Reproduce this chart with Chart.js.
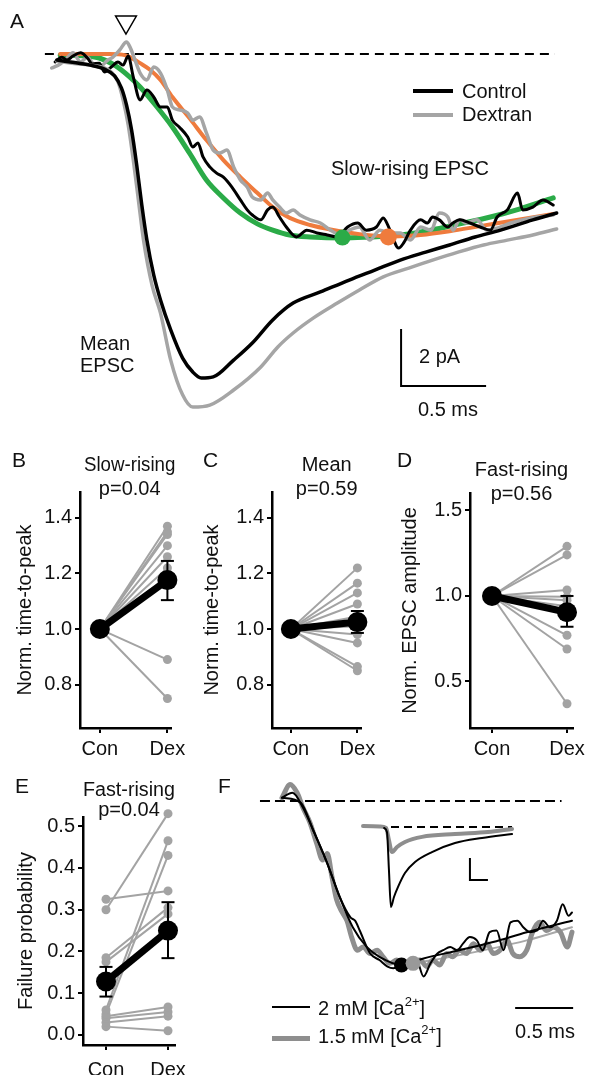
<!DOCTYPE html>
<html>
<head>
<meta charset="utf-8">
<script src="https://cdn.jsdelivr.net/npm/chart.js@4.4.1/dist/chart.umd.min.js"></script>
<style>
body{margin:0;width:591px;height:1075px;overflow:hidden;background:#fff;position:relative;font-family:'Liberation Sans',Arial,sans-serif;font-size:20px;color:#111}
canvas{position:absolute}
.t{position:absolute;line-height:20px;white-space:nowrap}
.lt{position:absolute;font-size:21px;line-height:20px}
.sw{position:absolute;height:0}
sup{font-size:13px;line-height:0;vertical-align:9px}
</style>
</head>
<body>
<canvas id="cA" width="591" height="430" style="left:0;top:0"></canvas>
<canvas id="cB" width="190" height="328" style="left:0;top:440px"></canvas>
<canvas id="cC" width="190" height="328" style="left:190px;top:440px"></canvas>
<canvas id="cD" width="206" height="328" style="left:385px;top:440px"></canvas>
<canvas id="cE" width="200" height="325" style="left:0;top:760px"></canvas>
<canvas id="cF" width="341" height="315" style="left:250px;top:760px"></canvas>

<div class="lt" style="left:10px;top:11px">A</div>
<div class="lt" style="left:12px;top:450px">B</div>
<div class="lt" style="left:203px;top:450px">C</div>
<div class="lt" style="left:397px;top:450px">D</div>
<div class="lt" style="left:15px;top:776px">E</div>
<div class="lt" style="left:218px;top:776px">F</div>

<!-- legende A -->
<div class="sw" style="left:413px;top:89px;width:40px;border-top:4px solid #000"></div>
<div class="sw" style="left:413px;top:113px;width:40px;border-top:4px solid #a5a5a5"></div>
<div class="t" style="left:462px;top:81px">Control</div>
<div class="t" style="left:462px;top:104px">Dextran</div>
<div class="t" style="left:331px;top:158px">Slow-rising EPSC</div>
<div class="t" style="left:80px;top:333px">Mean</div>
<div class="t" style="left:80px;top:355px">EPSC</div>
<div class="t" style="left:419px;top:346px">2 pA</div>
<div class="t" style="left:418px;top:399px">0.5 ms</div>

<!-- legende F -->
<div class="sw" style="left:272px;top:1006px;width:38px;border-top:2px solid #000"></div>
<div class="sw" style="left:272px;top:1036px;width:38px;border-top:5px solid #8e8e8e"></div>
<div class="t" style="left:318px;top:998px">2 mM [Ca<sup>2+</sup>]</div>
<div class="t" style="left:318px;top:1026px">1.5 mM [Ca<sup>2+</sup>]</div>
<div class="t" style="left:515px;top:1021px">0.5 ms</div>

<script>
// donnees du panneau A (temps en ms, courant en pA)
var slowConTrace=[[0.03,-0.28],[0.07,-0.11],[0.10,-0.21],[0.135,-0.07],[0.18,0.04],[0.22,-0.14],[0.25,-0.35],[0.29,-0.32],[0.32,-0.63],[0.36,-0.46],[0.40,-0.28],[0.43,-0.39],[0.46,-0.07],[0.49,-0.81],[0.53,-1.61],[0.57,-1.26],[0.61,-1.51],[0.65,-1.86],[0.69,-1.86],[0.72,-2.32],[0.76,-2.56],[0.81,-2.91],[0.84,-3.26],[0.87,-3.12],[0.90,-3.61],[0.94,-3.96],[0.98,-4.18],[1.02,-4.32],[1.07,-4.67],[1.12,-5.12],[1.16,-5.47],[1.19,-5.65],[1.24,-5.82],[1.28,-5.47],[1.31,-5.37],[1.35,-5.72],[1.39,-6.07],[1.45,-6.42],[1.51,-6.18],[1.57,-6.28],[1.63,-6.35],[1.69,-6.42],[1.75,-6.07],[1.81,-5.93],[1.86,-6.18],[1.92,-6.07],[1.96,-5.75],[2.00,-6.18],[2.05,-6.81],[2.08,-6.63],[2.12,-6.18],[2.18,-5.82],[2.22,-5.93],[2.25,-5.72],[2.29,-5.82],[2.34,-6.07],[2.37,-5.93],[2.41,-5.82],[2.47,-5.93],[2.53,-6.07],[2.59,-6.18],[2.63,-5.72],[2.69,-5.47],[2.75,-4.88],[2.78,-5.47],[2.84,-5.37],[2.90,-5.12],[2.96,-5.30]]
var slowDexTrace=[[0.01,-0.49],[0.06,-0.35],[0.10,-0.14],[0.135,0.04],[0.18,-0.28],[0.22,-0.11],[0.25,-0.32],[0.29,-0.46],[0.34,-0.21],[0.37,-0.11],[0.41,0.14],[0.45,0.42],[0.47,0.25],[0.50,-0.21],[0.53,-0.67],[0.57,-0.91],[0.61,-0.46],[0.65,-0.67],[0.69,-1.26],[0.72,-1.86],[0.76,-1.96],[0.81,-2.07],[0.84,-2.32],[0.88,-2.21],[0.92,-2.77],[0.96,-3.37],[1.00,-3.47],[1.04,-3.37],[1.08,-3.96],[1.12,-4.42],[1.16,-4.67],[1.19,-5.02],[1.24,-5.12],[1.28,-4.88],[1.31,-5.12],[1.35,-5.37],[1.39,-5.58],[1.43,-5.47],[1.47,-5.65],[1.53,-5.82],[1.59,-5.93],[1.65,-6.18],[1.71,-6.35],[1.76,-6.18],[1.82,-6.07],[1.88,-6.53],[1.94,-6.18],[2.00,-6.28],[2.06,-6.28],[2.12,-6.53],[2.18,-6.07],[2.24,-6.18],[2.29,-5.58],[2.34,-5.72],[2.37,-6.18],[2.41,-5.82],[2.45,-5.93],[2.51,-5.82],[2.57,-6.18],[2.63,-6.11],[2.71,-5.93],[2.78,-5.82],[2.86,-5.72],[2.96,-5.65]]
var slowConFit=[[0.06,-0.04],[0.21,-0.07],[0.29,-0.14],[0.38,-0.39],[0.47,-0.81],[0.53,-1.16],[0.62,-1.79],[0.72,-2.56],[0.82,-3.47],[0.92,-4.42],[1.02,-5.05],[1.12,-5.58],[1.22,-5.96],[1.31,-6.18],[1.41,-6.35],[1.53,-6.42],[1.72,-6.46],[1.88,-6.42],[2.06,-6.35],[2.24,-6.18],[2.41,-5.96],[2.59,-5.72],[2.76,-5.44],[2.96,-5.05]]
var slowDexFit=[[0.06,0],[0.35,0],[0.44,-0.04],[0.47,-0.11],[0.53,-0.32],[0.59,-0.56],[0.65,-0.91],[0.72,-1.51],[0.82,-2.25],[0.92,-3.02],[1.02,-3.72],[1.12,-4.32],[1.22,-4.88],[1.31,-5.37],[1.41,-5.75],[1.53,-6.00],[1.65,-6.16],[1.82,-6.32],[2.02,-6.40],[2.18,-6.35],[2.35,-6.22],[2.53,-6.04],[2.71,-5.86],[2.96,-5.61]]
var meanConTrace=[[0.04,-0.21],[0.12,-0.28],[0.235,-0.39],[0.32,-0.53],[0.38,-0.77],[0.42,-1.19],[0.45,-1.79],[0.48,-2.67],[0.51,-3.89],[0.54,-5.30],[0.57,-6.53],[0.61,-7.75],[0.65,-8.63],[0.71,-9.68],[0.78,-10.67],[0.84,-11.16],[0.89,-11.37],[0.96,-11.33],[1.08,-10.74],[1.19,-10.14],[1.31,-9.33],[1.43,-8.74],[1.59,-8.35],[1.76,-7.93],[1.91,-7.58],[2.06,-7.23],[2.21,-6.95],[2.35,-6.70],[2.50,-6.42],[2.65,-6.18],[2.84,-5.82],[2.98,-5.58]]
var meanDexTrace=[[0.04,-0.25],[0.12,-0.32],[0.235,-0.39],[0.32,-0.49],[0.36,-0.63],[0.40,-0.98],[0.43,-1.61],[0.46,-2.49],[0.49,-3.72],[0.52,-5.12],[0.55,-6.53],[0.60,-8.11],[0.65,-9.09],[0.71,-10.74],[0.78,-11.96],[0.84,-12.39],[0.94,-12.32],[1.08,-11.79],[1.24,-10.98],[1.34,-10.28],[1.43,-9.79],[1.55,-9.26],[1.69,-8.74],[1.82,-8.28],[1.96,-7.82],[2.11,-7.51],[2.25,-7.23],[2.40,-6.95],[2.55,-6.70],[2.69,-6.53],[2.84,-6.35],[2.98,-6.14]]
var slowPeaks=[[1.72,-6.44],[1.99,-6.42]]   // vert = control, orange = dextran
var stimMark=[[0.447,1.12]]
var baselineA=[[-0.03,0],[2.97,0]]
var scaleBarA=[[2.065,-9.65],[2.065,-11.65],[2.565,-11.65]]   // 2 pA, 0.5 ms

// donnees des panneaux B-E
var groups=['Con','Dex']
var slowDex=[1.37,1.35,1.34,1.30,1.26,1.22,1.19,1.17,0.89,0.75]
var slowCon=[1,1,1,1,1,1,1,1,1,1]
var slowMean=[1.0,1.176]
var slowErr=[[1,1.104,1.245]]
var meanDex=[1.22,1.165,1.13,1.09,1.045,1.01,0.98,0.95,0.865,0.85]
var meanCon=[1,1,1,1,1,1,1,1,1,1]
var meanMean=[1.0,1.025]
var meanErr=[[1,0.986,1.065]]
var ampDex=[1.29,1.24,1.035,0.995,0.975,0.94,0.77,0.69,0.37]
var ampCon=[1,1,1,1,1,1,1,1,1]
var ampMean=[1.0,0.905]
var ampErr=[[1,0.82,1.0]]
var failCon=[0.30,0.325,0.185,0.175,0.06,0.05,0.045,0.04,0.03,0.02]
var failDex=[0.53,0.345,0.305,0.29,0.465,0.43,0.067,0.055,0.045,0.01]
var failMean=[0.128,0.25]
var failErr=[[0,0.092,0.163],[1,0.184,0.318]]
var ticksTime=[0.8,1.0,1.2,1.4]
var ticksAmp=[0.5,1.0,1.5]
var ticksFail=[0,0.1,0.2,0.3,0.4,0.5]

// donnees du panneau F (temps en ms, courant normalise)
var caConTrace=[[0,0.02],[0.09,0.05],[0.18,-0.04],[0.27,-0.18],[0.39,-0.38],[0.50,-0.59],[0.59,-0.71],[0.63,-0.73],[0.67,-0.79],[0.76,-0.93],[0.84,-0.97],[0.91,-1.01],[0.96,-1.02],[1.03,-1.00],[1.16,-0.97],[1.22,-1.07],[1.28,-0.99],[1.34,-0.93],[1.39,-0.91],[1.45,-0.89],[1.51,-0.91],[1.56,-0.87],[1.62,-0.83],[1.68,-0.85],[1.73,-0.91],[1.79,-0.80],[1.85,-0.79],[1.91,-0.91],[1.97,-0.74],[2.03,-0.73],[2.08,-0.77],[2.14,-0.80],[2.20,-0.79],[2.25,-0.73],[2.31,-0.77],[2.37,-0.73],[2.42,-0.63],[2.47,-0.70],[2.50,-0.68]]
var caLowTrace=[[0,0.02],[0.07,0.10],[0.13,0.05],[0.18,-0.04],[0.24,-0.13],[0.30,-0.26],[0.35,-0.36],[0.39,-0.32],[0.43,-0.46],[0.47,-0.60],[0.52,-0.68],[0.56,-0.73],[0.60,-0.83],[0.65,-0.91],[0.70,-0.89],[0.76,-0.93],[0.82,-0.91],[0.87,-0.95],[0.93,-0.99],[0.99,-0.97],[1.04,-1.00],[1.13,-0.98],[1.19,-0.97],[1.25,-1.01],[1.30,-0.97],[1.36,-1.00],[1.42,-0.93],[1.47,-0.95],[1.53,-0.91],[1.59,-0.93],[1.65,-0.87],[1.71,-0.91],[1.77,-0.87],[1.82,-0.93],[1.88,-0.91],[1.94,-0.85],[1.99,-0.93],[2.05,-0.95],[2.11,-0.91],[2.16,-0.80],[2.22,-0.74],[2.28,-0.79],[2.34,-0.77],[2.40,-0.80],[2.46,-0.89],[2.50,-0.80]]
var caConFit=[[0,0.02],[0.16,-0.01],[0.27,-0.18],[0.39,-0.38],[0.50,-0.59],[0.61,-0.77],[0.73,-0.89],[0.84,-0.95],[1.03,-1.00],[1.22,-0.96],[1.53,-0.91],[1.82,-0.86],[2.11,-0.80],[2.50,-0.73]]
var caLowFit=[[1.13,-0.99],[1.53,-0.94],[2.11,-0.85],[2.50,-0.77]]
var caConPeak=[[1.03,-1.00]]
var caLowPeak=[[1.13,-0.99]]
var baselineF=[[-0.19,0],[2.41,0]]
var scaleBarF=[[2.01,-1.262],[2.51,-1.262]]   // 0.5 ms
// encart F (ms, pA)
var insetCon=[[1.06,-0.45],[1.22,-2.3],[1.33,-19.5],[1.44,-36.4],[1.61,-31.8],[1.83,-27.3],[2.22,-20.9],[2.78,-15.9],[3.72,-11.4],[5.0,-7.3],[6.5,-5.0],[8.17,-3.2]]
var insetLow=[[-0.11,0.45],[0.83,0.2],[1.17,-0.45],[1.33,-5.9],[1.5,-11.4],[1.78,-9.1],[2.22,-6.8],[3.17,-4.5],[5.0,-3.2],[6.83,-2.3],[8.17,-0.9]]
var insetBase=[[0,0],[8.17,0]]
var insetBar=[[5.83,-14.1],[5.83,-24.1],[6.83,-24.1]]

var gray='#a3a3a3'
var traceGray='#a5a5a5'
var green='#2bab48'
var orange='#ef7b3d'

Chart.defaults.font.family="'Liberation Sans', Arial, sans-serif"
Chart.defaults.font.size=20
Chart.defaults.color='#111'

const titleShift={  // decaler le titre horizontalement
    id:'titleShift',
    afterLayout:(chart,args,opts)=>{
        var tb=chart.titleBlock
        if(tb && opts.dx){ tb.left+=opts.dx; tb.right+=opts.dx }
    }
}

function trace(data,color,width,extra){
    var d={data:data,borderColor:color,borderWidth:width,pointRadius:0,fill:false,
        cubicInterpolationMode:'monotone',borderCapStyle:'round',borderJoinStyle:'round'}
    return Object.assign(d,extra||{})
}
function straight(data,color,width,extra){
    var d={data:data,borderColor:color,borderWidth:width,pointRadius:0,fill:false,tension:0,borderCapStyle:'butt'}
    return Object.assign(d,extra||{})
}
function dots(data,color,r,extra){
    var d={data:data,showLine:false,pointRadius:r,pointBackgroundColor:color,pointBorderWidth:0,borderColor:color}
    return Object.assign(d,extra||{})
}

function traceChart(id,datasets,scales){
    return new Chart(document.getElementById(id),{
        type:'line',
        data:{datasets:datasets},
        options:{
            responsive:false,animation:false,events:[],
            layout:{padding:0,autoPadding:false},
            plugins:{legend:{display:false},tooltip:{enabled:false}},
            scales:scales
        }
    })
}

// panneau A
traceChart('cA',[
    dots(stimMark,'#fff',12,{pointStyle:'triangle',rotation:180,pointBorderWidth:1.5,pointBorderColor:'#000'}),
    dots([slowPeaks[1]],orange,8.5),
    dots([slowPeaks[0]],green,8),
    trace(meanConTrace,'#000',3.5),
    trace(meanDexTrace,traceGray,3.5),
    trace(slowConTrace,'#000',3),
    trace(slowDexTrace,traceGray,3.5),
    trace(slowDexFit,orange,4),
    trace(slowConFit,green,5),
    straight(baselineA,'#000',2,{borderDash:[9,6]}),
    straight(scaleBarA,'#000',2)
],{
    x:{type:'linear',display:false,min:-0.294,max:3.182},
    y:{display:false,min:-13.193,max:1.895}
})

// panneau F
traceChart('cF',[
    dots(caLowPeak,'#999',7.5),
    dots(caConPeak,'#000',7.5),
    trace(caConTrace,'#000',2),
    trace(caConFit,'#000',2),
    trace(caLowTrace,'#8e8e8e',5),
    trace(caLowFit,'#a8a8a8',2),
    trace(insetCon,'#000',2,{xAxisID:'x2',yAxisID:'y2'}),
    trace(insetLow,'#8e8e8e',4,{xAxisID:'x2',yAxisID:'y2'}),
    straight(insetBase,'#000',2,{borderDash:[8,5],xAxisID:'x2',yAxisID:'y2'}),
    straight(insetBar,'#000',2,{xAxisID:'x2',yAxisID:'y2'}),
    straight(baselineF,'#000',2,{borderDash:[10,5]}),
    straight(scaleBarF,'#000',2)
],{
    x:{type:'linear',display:false,min:-0.276,max:2.664},
    y:{display:false,min:-1.671,max:0.25},
    x2:{type:'linear',display:false,min:-6.389,max:12.556},
    y2:{display:false,min:-112.73,max:30.45}
})

function pairedChart(id,o){
    var ds=[]
    ds.push({data:[[0,o.mean[0]],[1,o.mean[1]]],borderColor:'#000',borderWidth:7,pointRadius:10,
        pointBackgroundColor:'#000',pointBorderWidth:0})
    o.err.forEach(function(e){
        ds.push({data:[[e[0],e[1]],[e[0],e[2]]],borderColor:'#000',borderWidth:2,pointStyle:'line',
            pointRadius:6.5,pointBorderWidth:2,pointBorderColor:'#000'})
    })
    for(var i=0;i<o.con.length;i++){
        ds.push({data:[[0,o.con[i]],[1,o.dex[i]]],borderColor:gray,borderWidth:2,pointRadius:4.5,
            pointBackgroundColor:gray,pointBorderWidth:0})
    }
    ds.forEach(function(d){ d.clip=false; d.tension=0 })
    var axisGrid={drawOnChartArea:false,tickLength:5,color:'#000',lineWidth:2}
    var axisBorder={color:'#000',width:2.5}
    return new Chart(document.getElementById(id),{
        type:'line',
        data:{datasets:ds},
        options:{
            responsive:false,animation:false,events:[],
            layout:{padding:{left:0,right:o.padR,top:0,bottom:0},autoPadding:false},
            plugins:{
                legend:{display:false},tooltip:{enabled:false},
                title:{display:true,text:o.title,fullSize:false,color:'#111',
                    font:{size:20,weight:'normal',lineHeight:o.lh},padding:{top:o.tTop,bottom:o.tBot}},
                titleShift:{dx:o.dx}
            },
            scales:{
                x:{type:'linear',min:o.xMin,max:o.xMax,
                    afterFit:function(a){ a.height=40 },
                    afterBuildTicks:function(a){ a.ticks=[{value:0},{value:1}] },
                    ticks:{callback:function(v){ return groups[v] },padding:o.xPad||4,color:'#111',autoSkip:false,maxRotation:0},
                    grid:axisGrid,border:axisBorder},
                y:{min:o.yMin,max:o.yMax,
                    afterFit:function(a){ a.width=o.yW },
                    afterBuildTicks:function(a){ a.ticks=o.yTicks.map(function(v){ return {value:v} }) },
                    ticks:{callback:function(v){ return v.toFixed(1) },padding:3,color:'#111'},
                    grid:axisGrid,border:axisBorder,
                    title:{display:true,text:o.yTitle,color:'#111',font:{size:20},padding:{top:o.yPad,bottom:0}}}
            }
        },
        plugins:[titleShift]
    })
}

pairedChart('cB',{title:['Slow-rising','p=0.04'],con:slowCon,dex:slowDex,mean:slowMean,err:slowErr,
    yTicks:ticksTime,yMin:0.644,yMax:1.493,xMin:-0.294,xMax:1.059,yW:80,padR:18,
    lh:1.2,tTop:13,tBot:-9,dx:4,yTitle:'Norm. time-to-peak',yPad:13})
pairedChart('cC',{title:['Mean','p=0.59'],con:meanCon,dex:meanDex,mean:meanMean,err:meanErr,
    yTicks:ticksTime,yMin:0.644,yMax:1.493,xMin:-0.284,xMax:1.06,yW:82,padR:18,
    lh:1.2,tTop:13,tBot:-9,dx:10,yTitle:'Norm. time-to-peak',yPad:10})
pairedChart('cD',{title:['Fast-rising','p=0.56'],con:ampCon,dex:ampDex,mean:ampMean,err:ampErr,
    yTicks:ticksAmp,yMin:0.228,yMax:1.602,xMin:-0.293,xMax:1.08,yW:85,padR:18,
    lh:1.2,tTop:18,tBot:-13,dx:0,yTitle:'Norm. EPSC amplitude',yPad:13})
pairedChart('cE',{title:['Fast-rising','p=0.04'],con:failCon,dex:failDex,mean:failMean,err:failErr,
    yTicks:ticksFail,yMin:-0.024,yMax:0.522,xMin:-0.371,xMax:1.113,yW:83,padR:25,
    lh:1.0,tTop:20,tBot:-3,dx:0,yTitle:'Failure probability',yPad:14,xPad:8})
</script>
</body>
</html>
